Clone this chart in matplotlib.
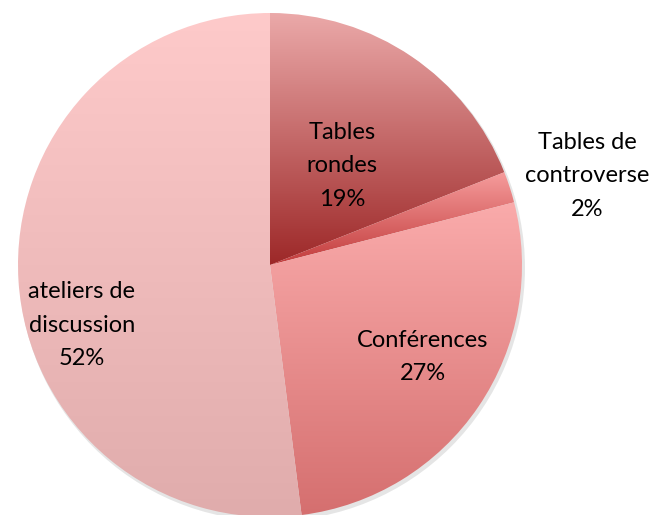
import numpy as np
import matplotlib
matplotlib.use("Agg")
from matplotlib import pyplot as plt
from matplotlib.colors import LinearSegmentedColormap

labels = ["Tables\nrondes", "Tables de\ncontroverse", "Conférences", "ateliers de\ndiscussion"]
shares = [19, 2, 27, 52]
# (top colour, bottom colour) of the vertical gradient in each slice
grad_cols = [("#eba9a9", "#9d2828"),
             ("#f69c9c", "#c23c3c"),
             ("#faabab", "#d56f6f"),
             ("#fecaca", "#e0acac")]
# where the text sits, in pixels from the top left
label_pos = [(342, 166), (587, 176), (423, 357), (82, 325)]

W, H = 656, 515
fig = plt.figure(figsize=(W / 100, H / 100), dpi=100)
ax = fig.add_axes([0, 0, 1, 1])
ax.set_xlim(0, W)
ax.set_ylim(0, H)
ax.set_aspect("equal")
ax.axis("off")

cx, cy, r = 270, H - 265, 252

# faint shadow under the pie
shadow = plt.Circle((cx + 2, cy - 3), r + 1, color="#000000", alpha=0.10, lw=0, zorder=0)
ax.add_patch(shadow)

wedges, _ = ax.pie(shares, center=(cx, cy), radius=r, startangle=90,
                   counterclock=False, frame=True,
                   wedgeprops=dict(linewidth=0, edgecolor="none"))
ax.set_xlim(0, W)
ax.set_ylim(0, H)
ax.axis("off")

for w, (top, bot) in zip(wedges, grad_cols):
    w.set_facecolor("none")
    ext = w.get_path().get_extents()
    cmap = LinearSegmentedColormap.from_list("g", [bot, top])
    grad = np.linspace(0, 1, 256).reshape(-1, 1)
    im = ax.imshow(grad, cmap=cmap, origin="lower", aspect="auto",
                   extent=[ext.x0, ext.x1, ext.y0, ext.y1], zorder=1,
                   interpolation="bilinear")
    im.set_clip_path(w)

ax.set_xlim(0, W)
ax.set_ylim(0, H)

for lab, s, (px, py) in zip(labels, shares, label_pos):
    ax.text(px, H - py, f"{lab}\n{s}%", ha="center", va="center",
            multialignment="center", fontsize=17, family="Lato",
            linespacing=1.75, color="black", zorder=3)

fig.savefig("out.png", dpi=100)
